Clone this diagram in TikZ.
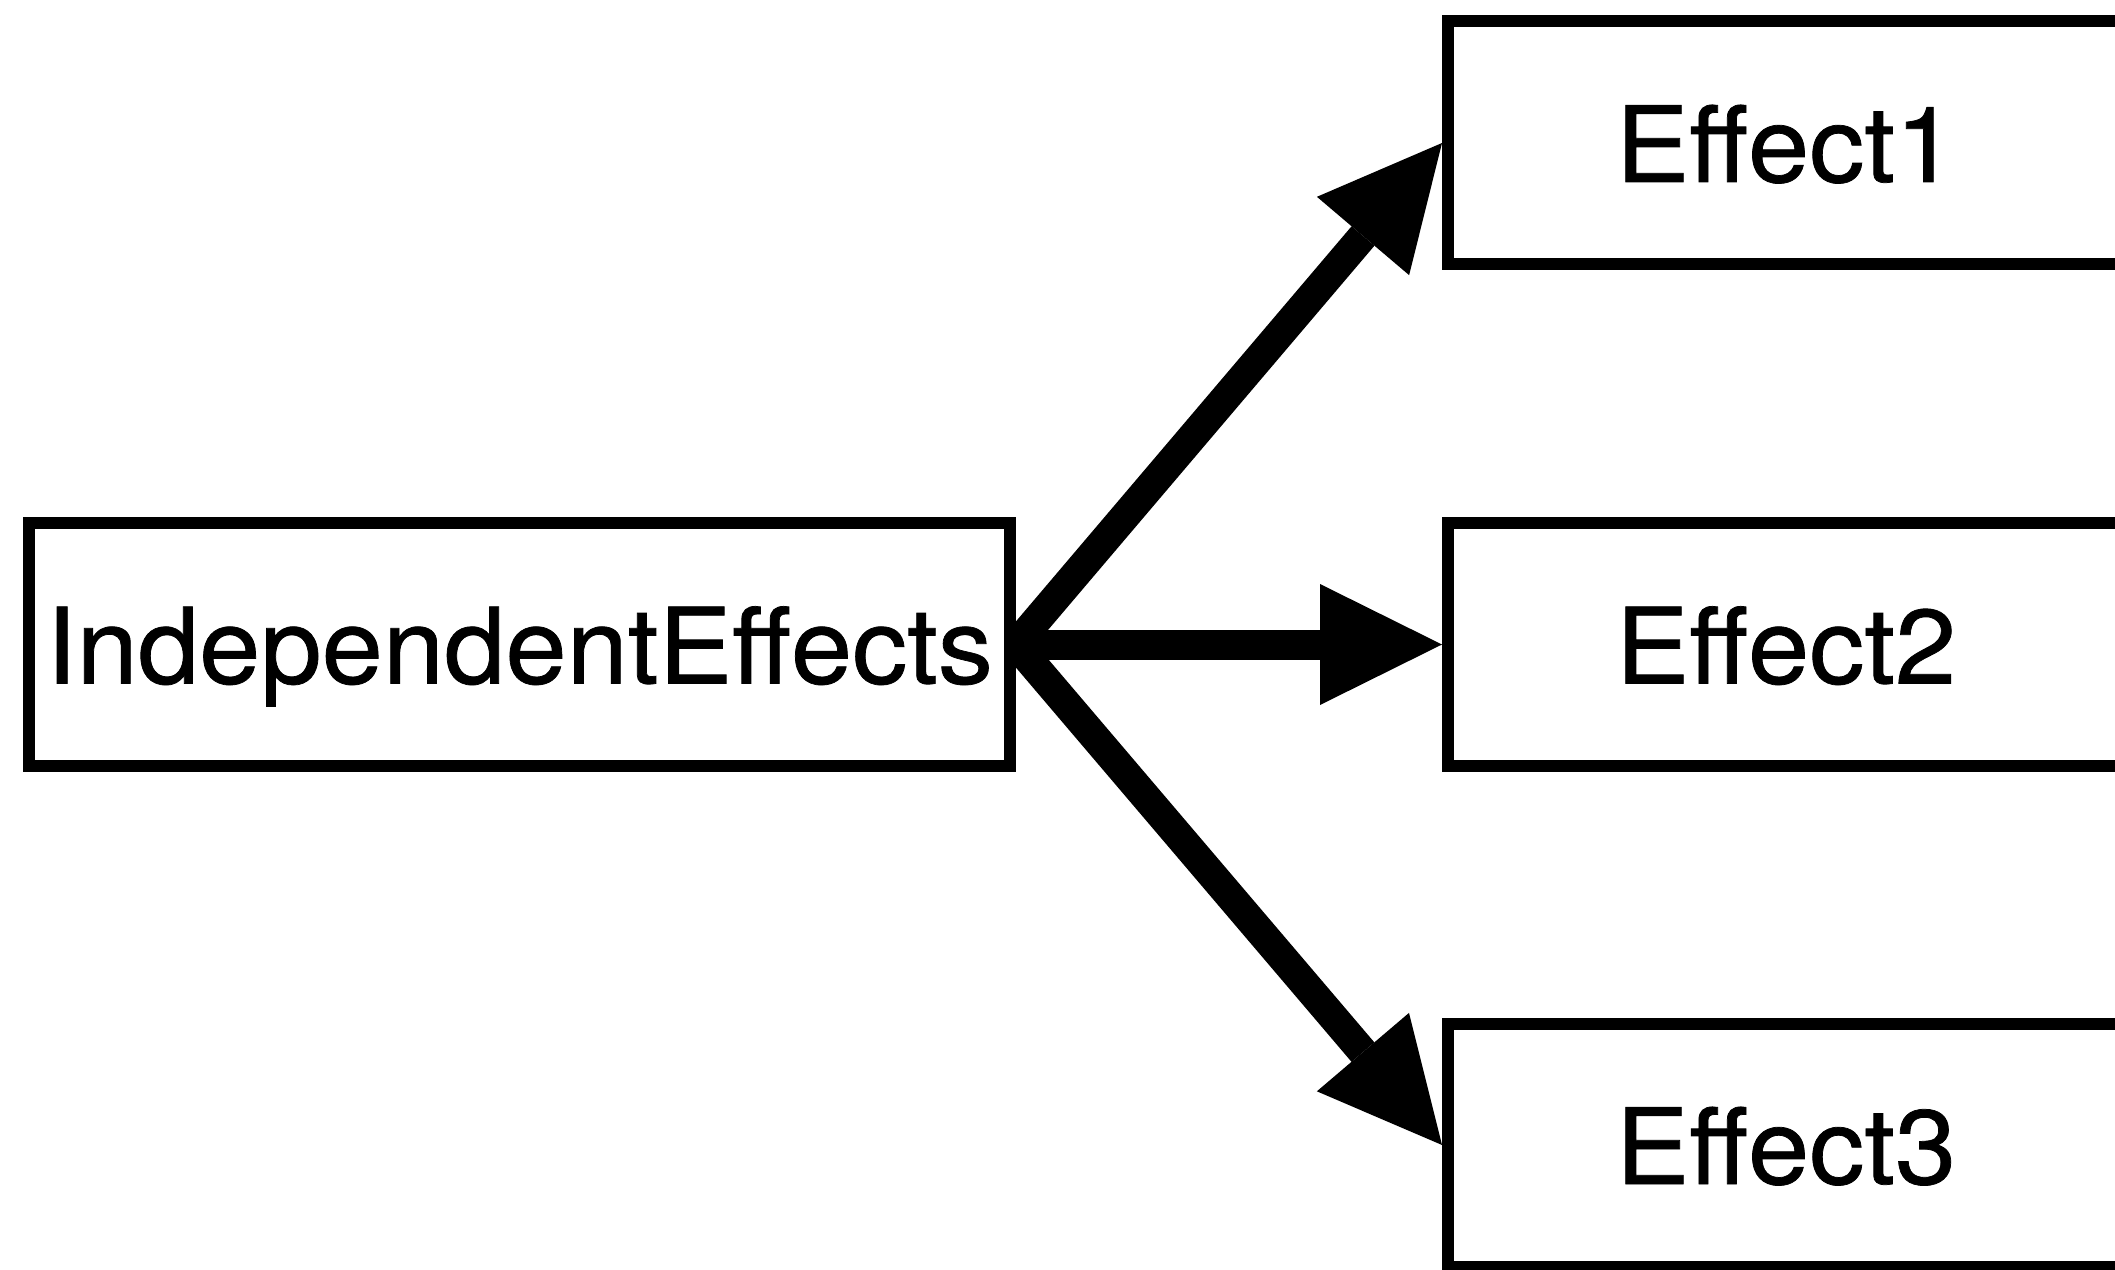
\documentclass[tikz,border=0pt]{standalone}
\usepackage{fontspec}
\setmainfont[FakeStretch=1.045, FakeBold=0.7]{TeX Gyre Heros}
\usetikzlibrary{arrows.meta}

\begin{document}
\begin{tikzpicture}[
		box/.style={draw, line width=1.2mm, inner sep=0pt, minimum height=2.43cm, font=\fontsize{30}{36}\selectfont, text height=0.78cm, text depth=0cm},
		link/.style={line width=3mm, -{Triangle[length=1.22cm, width=1.21cm, line width=0pt]}}
	]
		\useasboundingbox (0,0) rectangle (21.15,12.69);
		\clip (0,0) rectangle (21.15,12.69);
		
		\node (indep) at (5.195,6.245) [box, minimum width=9.81cm] {IndependentEffects};
		
		\node (eff1) at (17.86,11.26) [box, minimum width=6.76cm] {Effect1};
		\node (eff2) at (17.86,6.245) [box, minimum width=6.76cm] {Effect2};
		\node (eff3) at (17.86,1.24) [box, minimum width=6.76cm] {Effect3};
		
		\draw[link] (indep.east) -- (eff1.west);
		\draw[link] (indep.east) -- (eff2.west);
		\draw[link] (indep.east) -- (eff3.west);
	\end{tikzpicture}
\end{document}
